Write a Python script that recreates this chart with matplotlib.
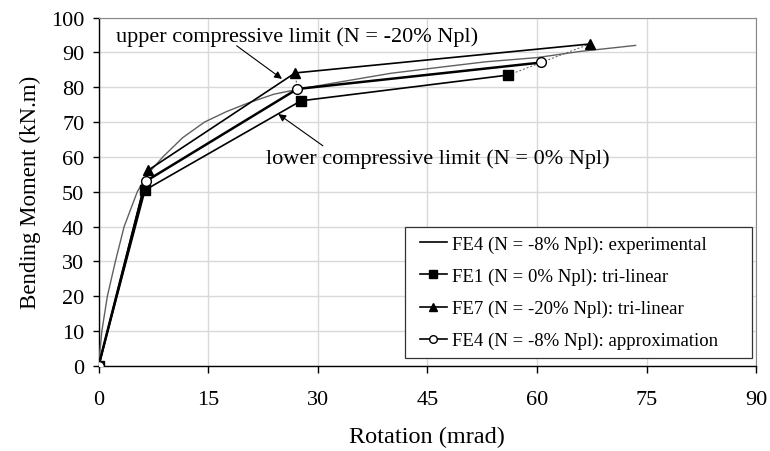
import matplotlib
matplotlib.use("Agg")
import matplotlib.pyplot as plt
from matplotlib.patches import Rectangle

plt.rcParams['font.family'] = ['Liberation Serif', 'DejaVu Serif']

# Experimental curve FE4 (N = -8% Npl)
exp_x = [0, 0.45, 1.2, 2.3, 3.5, 5.3, 6.7, 8.8, 11.5, 14.5, 17.5, 20.5, 24, 27.5,
         33, 40, 47, 53, 60, 66, 70, 73.5]
exp_y = [0, 10, 20, 30, 40, 50, 55, 60, 65.5, 70, 73, 75.5, 78, 79.5,
         81.5, 84, 85.8, 87.3, 88.5, 90.3, 91.2, 92]

# Tri-linear FE1 (N = 0% Npl)
fe1_x = [0, 6.36, 27.7, 56.1]
fe1_y = [0, 50.5, 76.1, 83.5]

# Tri-linear FE7 (N = -20% Npl)
fe7_x = [0, 6.8, 26.9, 67.2]
fe7_y = [0, 56.2, 84.1, 92.4]

# Approximation FE4 (N = -8% Npl)
fe4_x = [0, 6.45, 27.2, 60.6]
fe4_y = [0, 53.0, 79.5, 87.1]

x_ticks = [0, 15, 30, 45, 60, 75, 90]
y_ticks = [0, 10, 20, 30, 40, 50, 60, 70, 80, 90, 100]

fig = plt.figure(figsize=(7.7, 4.52), dpi=100)
ax = fig.add_axes([0.128, 0.188, 0.854, 0.771])

ax.set_xlim(0, 90)
ax.set_ylim(0, 100)
ax.set_xticks(x_ticks)
ax.set_yticks(y_ticks)
ax.grid(True, color='#d9d9d9', linewidth=1.0)
ax.set_axisbelow(True)

# dashed guide lines between the approximations
ax.plot([fe7_x[2], fe4_x[2]], [fe7_y[2], fe4_y[2]],
        linestyle=(0, (2, 2)), color='#555555', linewidth=0.7, zorder=2)
ax.plot([fe1_x[3], fe4_x[3], fe7_x[3]], [fe1_y[3], fe4_y[3], fe7_y[3]],
        linestyle=(0, (2, 2)), color='#555555', linewidth=0.7, zorder=2)

ax.plot(exp_x, exp_y, color='#606060', linewidth=1.0,
        label='FE4 (N = -8% Npl): experimental', zorder=3)
ax.plot(fe1_x, fe1_y, color='black', linewidth=1.2, marker='s', markersize=7,
        label='FE1 (N = 0% Npl): tri-linear', zorder=4)
ax.plot(fe7_x, fe7_y, color='black', linewidth=1.2, marker='^', markersize=7,
        label='FE7 (N = -20% Npl): tri-linear', zorder=4)
ax.plot(fe4_x, fe4_y, color='black', linewidth=1.8, marker='o', markersize=7,
        markerfacecolor='white', markeredgewidth=1.0,
        label='FE4 (N = -8% Npl): approximation', zorder=5)

arrow_kw = dict(arrowstyle='-|>', color='black', lw=0.8,
                shrinkA=0, shrinkB=0, mutation_scale=11)
ax.text(27.1, 94.7, 'upper compressive limit (N = -20% Npl)', fontsize=16,
        ha='center', va='center')
ax.annotate('', xy=(25.1, 82.4), xytext=(18.9, 91.9), arrowprops=arrow_kw)
ax.text(46.4, 59.6, 'lower compressive limit (N = 0% Npl)', fontsize=16,
        ha='center', va='center')
ax.annotate('', xy=(24.6, 72.3), xytext=(30.7, 63.2), arrowprops=arrow_kw)

for s in ('top', 'right'):
    ax.spines[s].set_color('#888888')
for s in ('left', 'bottom'):
    ax.spines[s].set_color('black')
    ax.spines[s].set_linewidth(1.0)

ax.tick_params(axis='x', direction='out', length=5, labelsize=16, width=1, pad=12)
ax.tick_params(axis='y', direction='out', length=4.3, labelsize=16, width=1, pad=6)
ax.set_xlabel('Rotation (mrad)', fontsize=17.5)
ax.set_ylabel('Bending Moment (kN.m)', fontsize=16.5)
ax.xaxis.set_label_coords(0.5, -0.201)
ax.xaxis.label.set_va('center')
ax.yaxis.set_label_coords(-0.103, 0.5)
ax.yaxis.label.set_va('center')

# legend frame
ax.add_patch(Rectangle((0.466, 0.023), 0.528, 0.376, transform=ax.transAxes,
                       facecolor='white', edgecolor='#333333', linewidth=0.9,
                       zorder=6))
leg = ax.legend(loc='center left', bbox_to_anchor=(0.4885, 0.211), fontsize=13.5,
                frameon=False, handlelength=1.45, handletextpad=0.25,
                labelspacing=0.79, borderpad=0, borderaxespad=0)
leg.set_zorder(7)
for h in leg.legend_handles:
    h.set_color('black')
    h.set_linewidth(1.2)
    h.set_markersize(5.5)

fig.savefig('out.png', dpi=100)
